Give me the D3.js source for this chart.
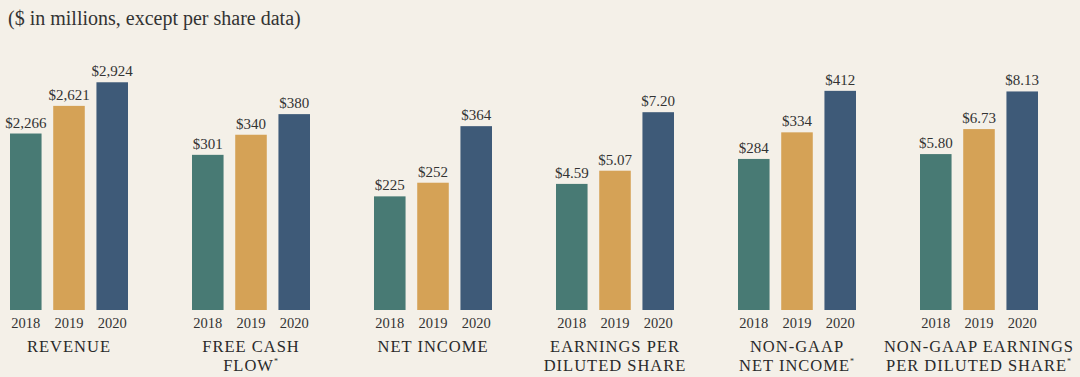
<!DOCTYPE html>
<html>
<head>
<meta charset="utf-8">
<script src="https://cdn.jsdelivr.net/npm/d3@7"></script>
<style>
  html, body { margin: 0; padding: 0; background: #f4f0e8; }
  svg { display: block; font-family: "Liberation Serif", "DejaVu Serif", serif; }
</style>
</head>
<body>
<div id="chart"></div>
<script>
// data
const YEARS = ["2018", "2019", "2020"];
const METRICS = ["revenue", "fcf", "netIncome", "eps", "ngNetIncome", "ngEps"];
const METRIC_LABELS = [
  ["REVENUE"],
  ["FREE CASH", "FLOW*"],
  ["NET INCOME"],
  ["EARNINGS PER", "DILUTED SHARE"],
  ["NON-GAAP", "NET INCOME*"],
  ["NON-GAAP EARNINGS", "PER DILUTED SHARE*"]
];
const VALUES_2018 = [2266, 301, 225, 4.59, 284, 5.80];
const VALUES_2019 = [2621, 340, 252, 5.07, 334, 6.73];
const VALUES_2020 = [2924, 380, 364, 7.20, 412, 8.13];
const PER_SHARE   = [false, false, false, true, false, true];
// each panel has its own scale
const PANEL_MAX   = [3210, 485, 495, 9.1, 470, 9.3];

const COLORS = ["#487a74", "#d5a256", "#3e5a78"];

const W = 1080, H = 377;
const baseY = 310, topY = 60;

const svg = d3.select("#chart").append("svg")
  .attr("width", W)
  .attr("height", H);

svg.append("rect").attr("width", W).attr("height", H).attr("fill", "#f4f0e8");

// title
svg.append("text")
  .attr("x", 8)
  .attr("y", 25)
  .attr("font-size", "20px")
  .attr("fill", "#333")
  .text("($ in millions, except per share data)");

const panelX = d3.scalePoint()
  .domain(METRICS)
  .range([69, 979]);

const barX = d3.scaleBand()
  .domain(YEARS)
  .range([-59, 59])
  .paddingInner(0.27)
  .paddingOuter(0);

const series = [VALUES_2018, VALUES_2019, VALUES_2020];

METRICS.forEach((m, i) => {
  const g = svg.append("g")
    .attr("transform", `translate(${panelX(m)},0)`);

  const y = d3.scaleLinear()
    .domain([0, PANEL_MAX[i]])
    .range([baseY, topY]);

  const fmt = PER_SHARE[i] ? d3.format("$.2f") : d3.format("$,");
  const rows = YEARS.map((yr, j) => ({ year: yr, value: series[j][i], color: COLORS[j] }));

  g.selectAll("rect.bar")
    .data(rows)
    .enter()
    .append("rect")
    .attr("class", "bar")
    .attr("x", d => barX(d.year))
    .attr("width", barX.bandwidth())
    .attr("y", d => y(d.value))
    .attr("height", d => baseY - y(d.value))
    .attr("fill", d => d.color);

  // nilai di atas batang
  g.selectAll("text.val")
    .data(rows)
    .enter()
    .append("text")
    .attr("class", "val")
    .attr("x", d => barX(d.year) + barX.bandwidth() / 2)
    .attr("y", d => y(d.value) - 6)
    .attr("text-anchor", "middle")
    .attr("font-size", "15px")
    .attr("fill", "#333")
    .text(d => fmt(d.value));

  // tahun
  g.selectAll("text.yr")
    .data(rows)
    .enter()
    .append("text")
    .attr("class", "yr")
    .attr("x", d => barX(d.year) + barX.bandwidth() / 2)
    .attr("y", 328)
    .attr("text-anchor", "middle")
    .attr("font-size", "14.5px")
    .attr("fill", "#333")
    .text(d => d.year);

  // label kategori
  METRIC_LABELS[i].forEach((line, k) => {
    const t = g.append("text")
      .attr("x", 0)
      .attr("y", 352 + k * 19)
      .attr("text-anchor", "middle")
      .attr("font-size", "16.5px")
      .attr("letter-spacing", "1px")
      .attr("fill", "#2a2a2a");
    if (line.endsWith("*")) {
      t.append("tspan").text(line.slice(0, -1));
      t.append("tspan")
        .attr("font-size", "8px")
        .attr("dy", "-7")
        .text("*");
    } else {
      t.text(line);
    }
  });
});
</script>
</body>
</html>
